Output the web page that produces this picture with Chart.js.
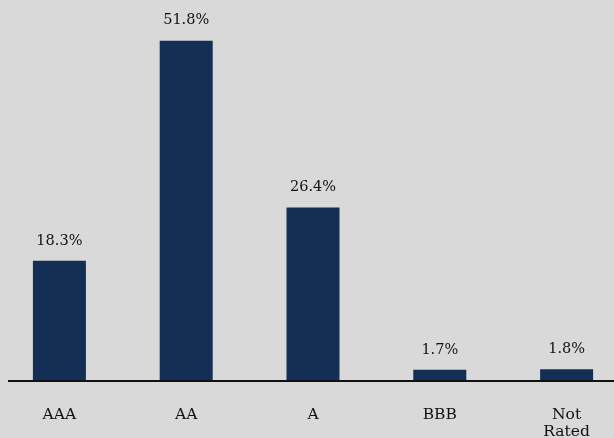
<!DOCTYPE html>
<html>
<head>
<meta charset="utf-8">
<script src="https://cdn.jsdelivr.net/npm/chart.js@4.4.0/dist/chart.umd.min.js"></script>
<style>
  html, body { margin: 0; padding: 0; background: #d9d9d9; }
  #wrap { width: 614px; height: 438px; overflow: hidden; position: relative; }
  #ratingChart { position: absolute; left: -4px; top: 0; }
</style>
</head>
<body>
<div id="wrap"><canvas id="ratingChart" width="634" height="438"></canvas></div>
<script>
const ratings = ["AAA", "AA", "A", "BBB", ["Not", "Rated"]];
const shares = [18.3, 51.8, 26.4, 1.7, 1.8];

const serif = "'DejaVu Serif', 'Liberation Serif', serif";

// value labels above each bar
const valueLabels = {
  id: "valueLabels",
  afterDatasetsDraw(chart) {
    const ctx = chart.ctx;
    const meta = chart.getDatasetMeta(0);
    ctx.save();
    ctx.font = "14.5px " + serif;
    ctx.fillStyle = "#111";
    ctx.textAlign = "center";
    ctx.textBaseline = "middle";
    meta.data.forEach((bar, i) => {
      ctx.fillText(shares[i].toFixed(1) + "%", bar.x, bar.y - 20);
    });
    ctx.restore();
  },
};

// baseline under the bars (starts a little in from the left edge)
const baseLine = {
  id: "baseLine",
  afterDatasetsDraw(chart) {
    const ctx = chart.ctx;
    const y = chart.scales.y.getPixelForValue(0);
    ctx.save();
    ctx.strokeStyle = "#111";
    ctx.lineWidth = 2;
    ctx.beginPath();
    ctx.moveTo(12, y);
    ctx.lineTo(chart.width, y);
    ctx.stroke();
    ctx.restore();
  },
};

const ctx = document.getElementById("ratingChart").getContext("2d");
const myChart = new Chart(ctx, {
  type: "bar",
  data: {
    labels: ratings,
    datasets: [
      {
        data: shares,
        backgroundColor: "#132f55",
        barPercentage: 0.418,
        categoryPercentage: 1,
      },
    ],
  },
  options: {
    responsive: false,
    animation: false,
    layout: {
      padding: 0,
    },
    plugins: {
      legend: { display: false },
      tooltip: { enabled: false },
    },
    scales: {
      x: {
        grid: { display: false },
        border: { display: false },
        ticks: {
          padding: 17,
          color: "#111",
          maxRotation: 0,
          autoSkip: false,
          font: { family: serif, size: 15.5, lineHeight: 1.1 },
        },
        afterFit(scale) {
          scale.height = 57;
        },
      },
      y: {
        display: false,
        min: 0,
        max: 58,
      },
    },
  },
  plugins: [valueLabels, baseLine],
});
</script>
</body>
</html>
